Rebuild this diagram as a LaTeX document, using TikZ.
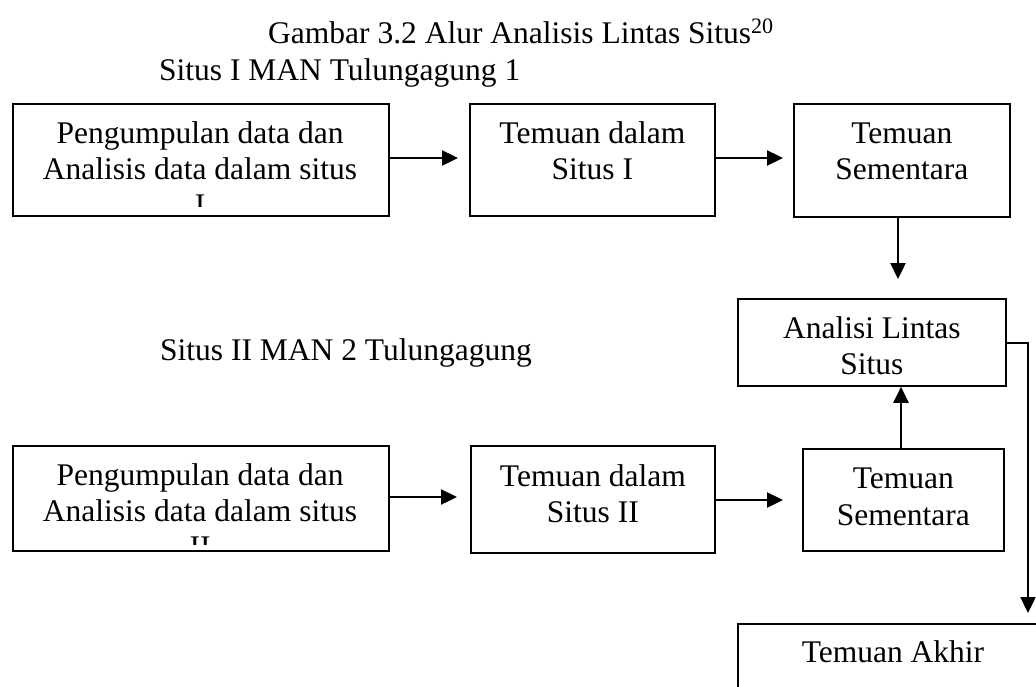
\documentclass[tikz,border=0pt]{standalone}
\usepackage{fontspec}
\setmainfont{Liberation Serif}
\usetikzlibrary{arrows.meta}
\begin{document}
\begin{tikzpicture}[x=1pt,y=-1pt,
  frame/.style={draw, line width=1.8pt, inner sep=0pt, anchor=north west},
  txt/.style={anchor=base, inner sep=0pt, font=\fontsize{31.5}{36}\selectfont},
  link/.style={line width=2.4pt, -{Triangle[length=16pt,width=15pt]}},
]
\useasboundingbox (0,0) rectangle (1036,686);
\clip (0,0) rectangle (1036,686);

% headings
\node[txt, anchor=base west] (title) at (268,43)
  {Gambar 3.2 Alur Analisis Lintas Situs\textsuperscript{20}};
\node[txt, anchor=base west] (site1) at (159,80) {Situs I MAN Tulungagung 1};
\node[txt, anchor=base west] (site2) at (160,360) {Situs II MAN 2 Tulungagung};

% boxes of the first site
\node[frame, minimum width=376pt, minimum height=112pt] (a1) at (12,103) {};
\node[frame, minimum width=245pt, minimum height=112pt] (a2) at (469,103) {};
\node[frame, minimum width=216pt, minimum height=113pt] (a3) at (793,103) {};

% cross-site analysis
\node[frame, minimum width=268pt, minimum height=87pt] (x) at (737,298) {};

% boxes of the second site
\node[frame, minimum width=376pt, minimum height=105pt] (b1) at (12,445) {};
\node[frame, minimum width=244pt, minimum height=107pt] (b2) at (470,445) {};
\node[frame, minimum width=201pt, minimum height=102pt] (b3) at (802,448) {};

% final findings (runs past the edge)
\node[frame, minimum width=320pt, minimum height=100pt] (f) at (737,623) {};

% box texts; the long ones are cut off inside their frame
\begin{scope}
  \clip (a1.north west) rectangle ([yshift=10pt]a1.south east);
  \node[txt] (a1t1) at (200,143) {Pengumpulan data dan};
  \node[txt] (a1t2) at (200,179) {Analisis data dalam situs};
  \node[txt] (a1t3) at (200,215) {I};
\end{scope}
\node[txt] (a2t1) at (a2.center |- 0,143) {Temuan dalam};
\node[txt] (a2t2) at (a2.center |- 0,179) {Situs I};
\node[txt] (a3t1) at (a3.center |- 0,143) {Temuan};
\node[txt] (a3t2) at (a3.center |- 0,179) {Sementara};

\node[txt] (xt1) at (x.center |- 0,338) {Analisi Lintas};
\node[txt] (xt2) at (x.center |- 0,374) {Situs};

\begin{scope}
  \clip (b1.north west) rectangle ([yshift=7pt]b1.south east);
  \node[txt] (b1t1) at (200,485) {Pengumpulan data dan};
  \node[txt] (b1t2) at (200,521) {Analisis data dalam situs};
  \node[txt] (b1t3) at (200,557) {II};
\end{scope}
\node[txt] (b2t1) at (b2.center |- 0,486) {Temuan dalam};
\node[txt] (b2t2) at (b2.center |- 0,522) {Situs II};
\node[txt] (b3t1) at (b3.center |- 0,488) {Temuan};
\node[txt] (b3t2) at (b3.center |- 0,525) {Sementara};

\node[txt] (ft) at (893,662) {Temuan Akhir};

% connectors
\coordinate (a1to2) at (a2.west |- 0,158);
\coordinate (a2to3) at (a3.west |- 0,158);
\draw[link] (a1.east |- 0,158) -- ([xshift=-11pt]a1to2);
\draw[link] (a2.east |- 0,158) -- ([xshift=-10pt]a2to3);
\draw[link] (a3.south -| 898,0) -- ([yshift=19pt]x.north -| 898,0);

\coordinate (b1to2) at (b2.west |- 0,497);
\coordinate (b2to3) at (b3.west |- 0,500);
\draw[link] (b1.east |- 0,497) -- ([xshift=-13pt]b1to2);
\draw[link] (b2.east |- 0,500) -- ([xshift=-19pt]b2to3);
\draw[link] (b3.north -| 901,0) -- (x.south -| 901,0);

\coordinate (bend) at (1028,343);
\draw[link] (x.east |- bend) -- (bend) -- ([yshift=10pt]f.north -| bend);
\end{tikzpicture}
\end{document}
